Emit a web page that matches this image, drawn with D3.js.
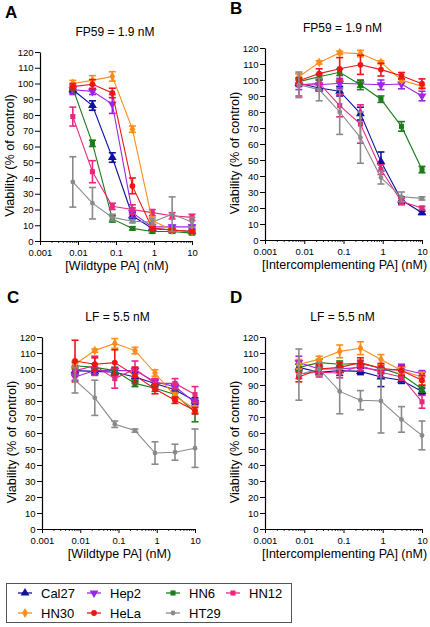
<!DOCTYPE html>
<html><head><meta charset="utf-8">
<script src="https://cdn.jsdelivr.net/npm/d3@7"></script>
<style>body{margin:0;background:#fff;font-family:"Liberation Sans",Arial,sans-serif;}</style>
</head><body><svg id="c" width="430" height="627"></svg>
<script>
const cellLines = ["Cal27","Hep2","HN6","HN12","HN30","HeLa","HT29"];
const colors = ["#1010a0","#9b27e6","#1a7d1a","#e8287f","#ff8c1a","#ee1515","#8a8a8a"];
const shapes = ["triangleUp","triangleDown","square","square","diamond","circle","smallCircle"];
const doses = [0.0073, 0.024, 0.08, 0.27, 0.9, 3, 10];
const xTickValues = [0.001, 0.01, 0.1, 1, 10];
const xTickLabels = ["0.001","0.01","0.1","1","10"];
const yTickValues = [0,10,20,30,40,50,60,70,80,90,100,110,120];

// Panel A: FP59 + wildtype PA
const A_mean = [
  [96, 86, 53, 16, 8, 7, 6],
  [96, 95, 87, 18, 9, 9, 9],
  [97, 62, 14, 8, 6, 6, 5],
  [79, 44, 22, 20, 18, 16, 15],
  [100, 102, 104.5, 71, 13, 7, 6],
  [98, 99.5, 94, 35, 8, 7, 6],
  [37.5, 24, 15, 12.5, 12, 17, 12]
];
const A_err = [
  [2,3,3,2,1,1,1],
  [3,2,6,3,1,1,1],
  [1,2,2,1,1,1,1],
  [6,7,2,3,2,2,2],
  [2,3,3,2,2,1,1],
  [2,3,3,5,1,1,1],
  [16,10,2,1,2,11,3]
];
// Panel B: FP59 + intercomplementing PA
const B_mean = [
  [98, 95, 93, 79, 49, 25, 17],
  [97, 97, 98, 97.5, 97, 97.5, 90],
  [99, 102, 104.8, 97, 88, 71, 44],
  [97, 98, 84, 72.5, 44, 24, 20],
  [102, 111, 117, 116.5, 111, 100, 96],
  [99.5, 104, 107, 109.5, 106.5, 102.7, 97.7],
  [97, 94, 80, 64, 39, 27, 26]
];
const B_err = [
  [2,2,3,4,6,2,1],
  [3,3,3,2,3,3,3],
  [2,2,2,3,2,3,2],
  [7,5,7,12,3,2,1],
  [2,1,1,2,1,1,1],
  [2,3,7,6,4,2,3],
  [8,7,14,16,4,3,1]
];
// Panel C: LF + wildtype PA
const C_mean = [
  [99, 98.5, 98, 95, 91, 87, 80],
  [95, 99, 99, 99, 92, 89, 79],
  [102, 101, 99, 91, 88, 84, 73],
  [99, 102, 94, 100, 91, 91, 84],
  [103, 111.5, 116, 111.5, 97.5, 83, 75],
  [105, 103, 104, 96, 87.5, 80.5, 74],
  [93, 82, 65.5, 61.5, 47.5, 48, 50.5]
];
const C_err = [
  [2,2,2,3,2,2,2],
  [2,2,2,2,2,2,2],
  [2,2,2,2,2,2,6],
  [3,6,6,5,3,3,5],
  [2,1,3,2,2,2,2],
  [13,4,8,5,3,2,2],
  [8,11,2,1,7,5,12]
];
// Panel D: LF + intercomplementing PA
const D_mean = [
  [101, 98, 99, 98.5, 95, 93, 86],
  [104, 100, 100, 101, 99, 100, 97],
  [101, 104, 103, 103.5, 100.5, 96.5, 87.5],
  [97, 98, 97.5, 102, 98, 95, 79.5],
  [103, 106, 111, 113, 106, 99, 95],
  [95, 100, 101, 104, 100.5, 99, 93],
  [96.5, 100, 86, 80.5, 80, 68.5, 58.5]
];
const D_err = [
  [2,2,3,2,6,2,2],
  [4,2,2,2,2,3,2],
  [2,2,2,2,2,2,2],
  [3,3,3,3,3,2,4],
  [3,2,4,4,3,2,3],
  [3,3,3,3,3,3,3],
  [16,4,14,6,20,8,9]
];

const panels = [
  {label:"A", title:"FP59 = 1.9 nM", xTitle:"[Wildtype PA] (nM)", mean:A_mean, err:A_err, x0:40, x1:192, yTop:52, yBot:241},
  {label:"B", title:"FP59 = 1.9 nM", xTitle:"[Intercomplementing PA] (nM)", mean:B_mean, err:B_err, x0:265, x1:422, yTop:48, yBot:240},
  {label:"C", title:"LF = 5.5 nM", xTitle:"[Wildtype PA] (nM)", mean:C_mean, err:C_err, x0:42, x1:195, yTop:337, yBot:529},
  {label:"D", title:"LF = 5.5 nM", xTitle:"[Intercomplementing PA] (nM)", mean:D_mean, err:D_err, x0:265, x1:422, yTop:337, yBot:529}
];

const svg = d3.select("#c");
const font = "'Liberation Sans', Arial, sans-serif";

function drawMarker(g, shape, color, cx, cy) {
  const sym = {
    triangleUp: d3.symbol(d3.symbolTriangle, 34),
    triangleDown: d3.symbol(d3.symbolTriangle, 34),
    square: d3.symbol(d3.symbolSquare, 26),
    diamond: d3.symbol(d3.symbolDiamond, 28),
    circle: d3.symbol(d3.symbolCircle, 26),
    smallCircle: d3.symbol(d3.symbolCircle, 18)
  }[shape];
  g.append("path").attr("d", sym())
    .attr("transform", `translate(${cx},${cy})` + (shape === "triangleDown" ? " rotate(180)" : ""))
    .attr("fill", color);
}

const minorTicks = [];
for (let e = -3; e < 1; e++) for (let m = 2; m <= 9; m++) minorTicks.push(m * Math.pow(10, e));

panels.forEach(p => {
  const x = d3.scaleLog().domain([0.001, 10]).range([p.x0, p.x1]);
  const y = d3.scaleLinear().domain([0, 120]).range([p.yBot, p.yTop]);
  const g = svg.append("g");

  // minor x ticks
  g.append("g").attr("transform", `translate(0,${p.yBot})`)
    .call(d3.axisBottom(x).tickValues(minorTicks).tickSize(2).tickFormat(""))
    .call(a => a.select(".domain").remove())
    .call(a => a.selectAll("line").attr("stroke", "#000").attr("stroke-width", 0.8));
  // major x axis
  g.append("g").attr("transform", `translate(0,${p.yBot})`)
    .call(d3.axisBottom(x).tickValues(xTickValues).tickSize(4).tickSizeOuter(0)
      .tickFormat((d, i) => xTickLabels[i]))
    .call(a => a.select(".domain").attr("stroke", "#000").attr("stroke-width", 1.2))
    .call(a => a.selectAll("line").attr("stroke", "#000").attr("stroke-width", 1))
    .call(a => a.selectAll("text").attr("font-family", font).attr("font-size", 9.5).attr("fill", "#000").attr("dy", "0.88em"));
  // y axis
  g.append("g").attr("transform", `translate(${p.x0},0)`)
    .call(d3.axisLeft(y).tickValues(yTickValues).tickSize(5).tickSizeOuter(0))
    .call(a => a.select(".domain").attr("stroke", "#000").attr("stroke-width", 1.2))
    .call(a => a.selectAll("line").attr("stroke", "#000").attr("stroke-width", 1))
    .call(a => a.selectAll("text").attr("font-family", font).attr("font-size", 9.5).attr("fill", "#000").attr("x", -6.5));

  // titles
  g.append("text").attr("x", p.x0 - 35).attr("y", p.yTop - 34).text(p.label)
    .attr("font-family", font).attr("font-size", 17).attr("font-weight", "bold");
  g.append("text").attr("x", (p.x0 + p.x1) / 2 - 1).attr("y", p.yTop - 16).text(p.title)
    .attr("text-anchor", "middle").attr("font-family", font).attr("font-size", 12);
  g.append("text").attr("x", (p.x0 + p.x1) / 2 + 1).attr("y", p.yBot + 28.5).text(p.xTitle)
    .attr("text-anchor", "middle").attr("font-family", font).attr("font-size", 12.5);
  g.append("text").attr("transform", `translate(${p.x0 - 26},${(p.yTop + p.yBot) / 2 + 9}) rotate(-90)`)
    .text("Viability (% of control)").attr("text-anchor", "middle")
    .attr("font-family", font).attr("font-size", 12.7);

  const line = d3.line().x((d, i) => x(doses[i])).y(d => y(d));
  cellLines.forEach((name, s) => {
    const sg = g.append("g");
    const col = colors[s];
    sg.append("path").attr("d", line(p.mean[s])).attr("fill", "none").attr("stroke", col).attr("stroke-width", 1.1);
    p.mean[s].forEach((v, i) => {
      const e = p.err[s][i];
      const cx = x(doses[i]);
      const yt = y(v + e), yb = y(v - e);
      sg.append("line").attr("x1", cx).attr("x2", cx).attr("y1", yt).attr("y2", yb).attr("stroke", col).attr("stroke-width", 1.6);
      [yt, yb].forEach(yy => sg.append("line").attr("x1", cx - 3.5).attr("x2", cx + 3.5).attr("y1", yy).attr("y2", yy).attr("stroke", col).attr("stroke-width", 1.6));
      drawMarker(sg, shapes[s], col, cx, y(v));
    });
  });
});

// legend
const lg = svg.append("g");
lg.append("rect").attr("x", 6.5).attr("y", 583.5).attr("width", 285).attr("height", 39)
  .attr("fill", "#fff").attr("stroke", "#555").attr("stroke-width", 1);
const legPos = [
  [25, 593], [94, 593], [173, 593], [233, 593],
  [25, 613], [94, 613], [173, 613]
];
const legOrder = [0, 1, 2, 3, 4, 5, 6];
legOrder.forEach((s, k) => {
  const [mx, my] = legPos[k];
  lg.append("line").attr("x1", mx - 7).attr("x2", mx + 7).attr("y1", my).attr("y2", my)
    .attr("stroke", colors[s]).attr("stroke-width", 1.3);
  drawMarker(lg, shapes[s], colors[s], mx, my);
  lg.append("text").attr("x", mx + 16).attr("y", my + 4.5).text(cellLines[s])
    .attr("font-family", font).attr("font-size", 13).attr("fill", "#000");
});
</script></body></html>
